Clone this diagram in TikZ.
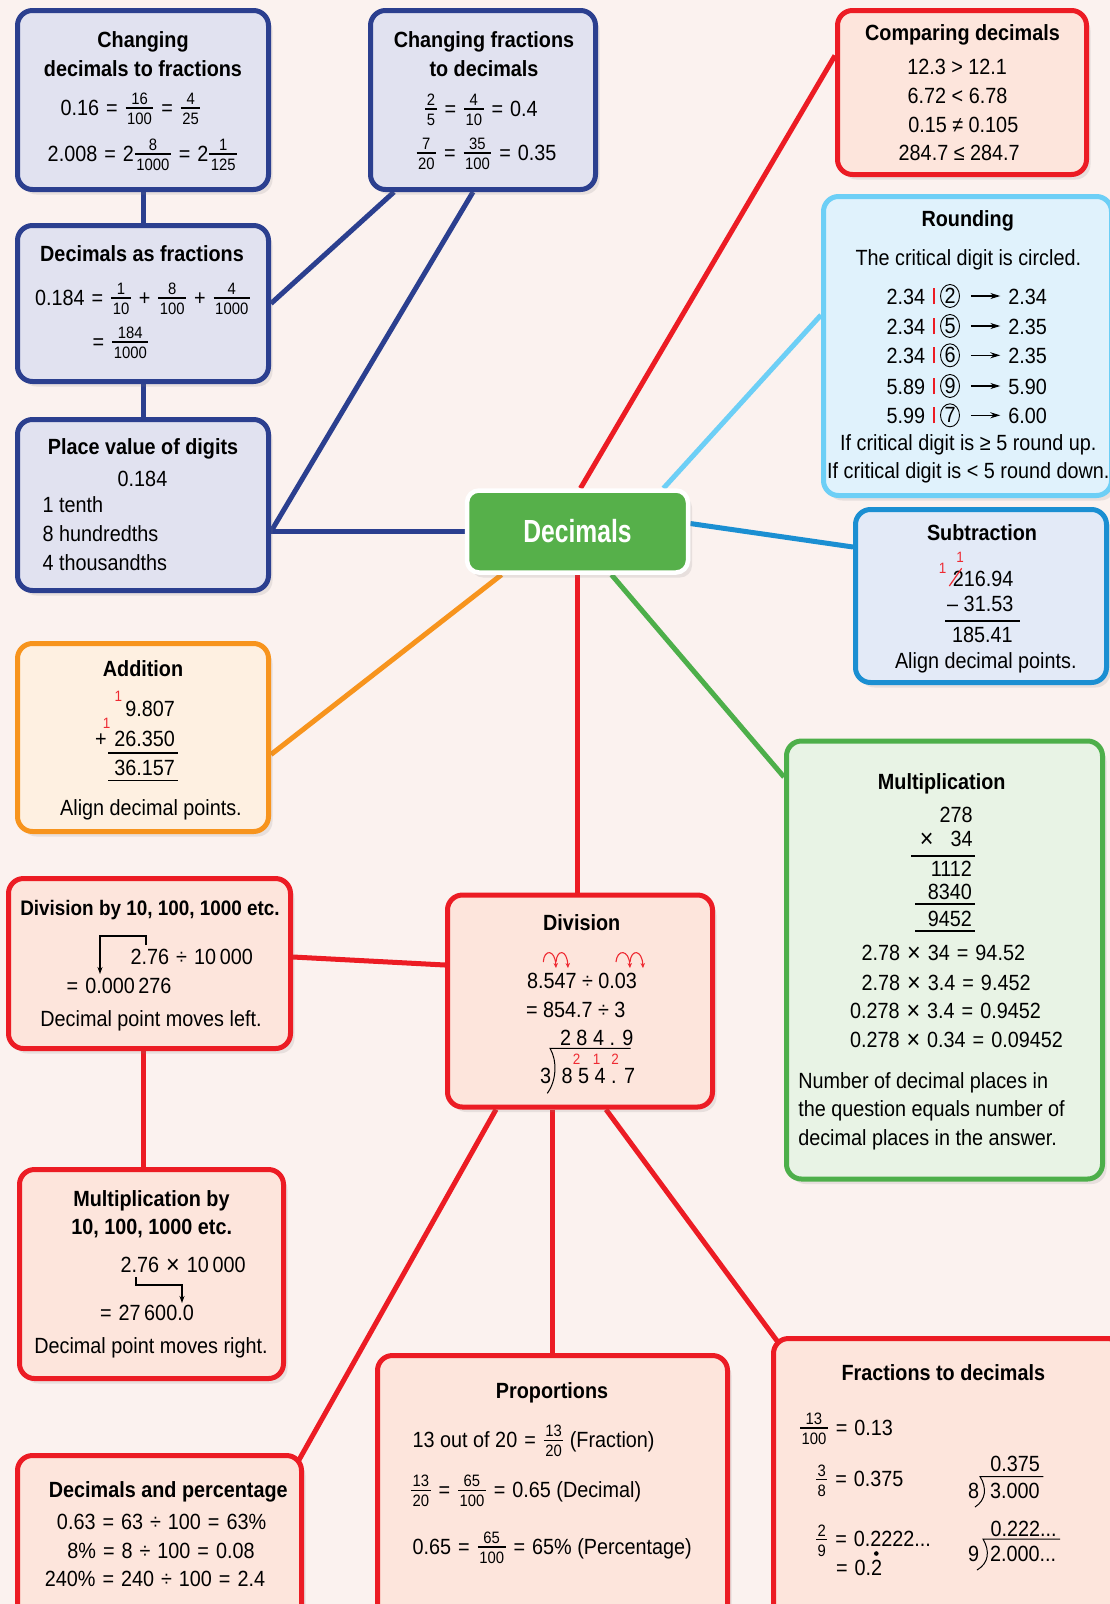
\documentclass[tikz,border=0pt]{standalone}
\usepackage{fontspec}
\setmainfont{Liberation Sans}[FakeStretch=0.9]
\newfontfamily\hfont{Liberation Sans}[FakeStretch=0.77]
\usetikzlibrary{shapes.geometric,shadows,calc,arrows.meta}
\pgfdeclarelayer{bg}
\pgfsetlayers{bg,main}
\definecolor{bgc}{HTML}{FBF2EF}
\definecolor{navy}{HTML}{2B3F8F}
\definecolor{navyfill}{HTML}{E1E2F0}
\definecolor{redb}{HTML}{EC1C24}
\definecolor{redfill}{HTML}{FDE5DC}
\definecolor{orb}{HTML}{F7941D}
\definecolor{orfill}{HTML}{FEF0E1}
\definecolor{ltb}{HTML}{6DCFF6}
\definecolor{ltfill}{HTML}{E0F2FC}
\definecolor{midb}{HTML}{1B8FD2}
\definecolor{midfill}{HTML}{E3EAF7}
\definecolor{grb}{HTML}{4DAF4A}
\definecolor{grfill}{HTML}{E8F3E5}
\definecolor{decg}{HTML}{56B04A}
\definecolor{carry}{HTML}{EE2A32}
\newcommand\fr[2]{\mbox{\fontsize{16.5}{17}\selectfont
 \setbox0=\hbox{#1}\setbox2=\hbox{#2}%
 \dimen0=\wd0 \ifdim\wd2>\dimen0 \dimen0=\wd2 \fi
 \advance\dimen0 by 3pt
 \kern1pt
 \rlap{\raisebox{10.5pt}{\hbox to\dimen0{\hss\box0\hss}}}%
 \rlap{\raisebox{6.4pt}{\rule{\dimen0}{1.2pt}}}%
 \raisebox{-9.4pt}{\hbox to\dimen0{\hss\box2\hss}}%
 \kern1pt}}
\newcommand\X{\raisebox{-1pt}{\fontsize{26}{26}\selectfont ×}}
\newcommand\op[1]{\hspace{7pt}#1\hspace{7pt}}
\newcommand\eq{\op{=}}
\newcommand\dv{\op{÷}}
\newcommand\tm{\op{\X}}
\newcommand\pl{\op{+}}
\tikzset{
 cbox/.style={rounded corners=15pt, line width=5pt, inner sep=0pt,
   drop shadow={shadow xshift=4pt, shadow yshift=-5pt, opacity=0.16}},
 navybox/.style={cbox, draw=navy, fill=navyfill},
 redbox/.style={cbox, draw=redb, fill=redfill},
 orbox/.style={cbox, draw=orb, fill=orfill},
 ltbox/.style={cbox, draw=ltb, fill=ltfill},
 midbox/.style={cbox, draw=midb, fill=midfill},
 grbox/.style={cbox, draw=grb, fill=grfill},
 txt/.style={inner sep=0pt, outer sep=0pt, font=\fontsize{22}{26}\selectfont},
 ttl/.style={inner sep=0pt, outer sep=0pt, font=\fontsize{22}{26}\selectfont\bfseries},
 carrytxt/.style={inner sep=0pt, outer sep=0pt, text=carry, font=\fontsize{15}{16}\selectfont},
 link/.style={line width=5pt},
 sumline/.style={line width=1.8pt},
 ptr/.style={line width=1.1pt, -{Stealth[length=7pt,width=5pt]}},
 rarrow/.style={line width=1.3pt, -{Stealth[length=10pt,width=6pt]}},
 redarc/.style={draw=carry, line width=1.1pt, -{Stealth[length=5pt,width=4.5pt]}},
 circd/.style={ellipse, draw, line width=0.9pt, minimum width=19pt, minimum height=23pt, inner sep=0pt, font=\fontsize{22}{26}\selectfont},
}
\begin{document}
\begin{tikzpicture}[x=1pt,y=-1pt]
\useasboundingbox (0,0) rectangle (1110,1604);
\begin{pgfonlayer}{bg}
\fill[bgc] (0,0) rectangle (1110,1604);
\end{pgfonlayer}

% Changing decimals to fractions
\node[navybox, minimum width=251pt, minimum height=179pt] (A) at (143,100) {};
\node[ttl, anchor=base] (At1) at (143,47.5) {Changing};
\node[ttl, anchor=base] (At2) at (143,76) {decimals to fractions};
\node[txt, anchor=base] (Al1) at (131,115) {0.16\eq\fr{16}{100}\eq\fr{4}{25}};
\node[txt, anchor=base] (Al2) at (143,161) {2.008\eq2\fr{8}{1000}\eq2\fr{1}{125}};

% Changing fractions to decimals
\node[navybox, minimum width=225pt, minimum height=179pt] (B) at (483,100) {};
\node[ttl, anchor=base] (Bt1) at (484,47.5) {Changing fractions};
\node[ttl, anchor=base] (Bt2) at (484,76) {to decimals};
\node[txt, anchor=base] (Bl1) at (481,116) {\fr{2}{5}\eq\fr{4}{10}\eq0.4};
\node[txt, anchor=base] (Bl2) at (486,160) {\fr{7}{20}\eq\fr{35}{100}\eq0.35};

% Decimals as fractions
\node[navybox, minimum width=251pt, minimum height=156pt] (C) at (143,303.5) {};
\node[ttl, anchor=base] (Ct) at (142,261) {Decimals as fractions};
\node[txt, anchor=base] (Cl1) at (143,305) {0.184\eq\fr{1}{10}\pl\fr{8}{100}\pl\fr{4}{1000}};
\node[txt, anchor=base] (Cl2) at (121,349) {=\hspace{7pt}\fr{184}{1000}};

% Place value
\node[navybox, minimum width=251pt, minimum height=171pt] (D) at (143,505) {};
\node[ttl, anchor=base] (Dt) at (143,454.5) {Place value of digits};
\node[txt, anchor=base] (Dl1) at (142.5,486.7) {0.184};
\node[txt, anchor=base west] (Dl2) at (42.7,512.7) {1 tenth};
\node[txt, anchor=base west] (Dl3) at (42.7,541.7) {8 hundredths};
\node[txt, anchor=base west] (Dl4) at (42.7,570.7) {4 thousandths};

% Addition
\node[orbox, minimum width=251pt, minimum height=188pt] (E) at (143,737.5) {};
\node[ttl, anchor=base] (Et) at (143,676.7) {Addition};
\node[txt, anchor=base east] (El1) at (175,716.7) {9.807};
\node[txt, anchor=base east] (El2) at (175,746) {26.350};
\node[txt, anchor=base] (Eplus) at (101,746) {+};
\node[txt, anchor=base east] (El3) at (175,775) {36.157};
\node[carrytxt] (Ec1) at (118.3,696.7) {1};
\node[carrytxt] (Ec2) at (106.7,723.3) {1};
\draw[sumline] (108,753.3) -- (177.7,753.3);
\draw[sumline] (108,780.5) -- (177.7,780.5);
\node[txt, anchor=base] (El4) at (151,815) {Align decimal points.};

% Division by 10
\node[redbox, minimum width=282pt, minimum height=170pt] (F) at (149.5,963.5) {};
\node[ttl, anchor=base, font=\fontsize{21}{26}\selectfont\bfseries] (Ft) at (150,915) {Division by 10, 100, 1000 etc.};
\node[txt, anchor=base west] (Fl1) at (130.7,964) {2.76\dv10\,000};
\node[txt, anchor=base west] (Fl2) at (66.7,993) {=\hspace{7pt}0.000\,276};
\node[txt, anchor=base] (Fl3) at (151,1026) {Decimal point moves left.};
\draw[ptr] (146,945) -- (146,936) -- (100,936) -- (100,974);

% Multiplication by 10
\node[redbox, minimum width=264pt, minimum height=209pt] (G) at (151.5,1274) {};
\node[ttl, anchor=base] (Gt1) at (151.5,1206) {Multiplication by};
\node[ttl, anchor=base] (Gt2) at (151.7,1234.7) {10, 100, 1000 etc.};
\node[txt, anchor=base west] (Gl1) at (120.7,1272) {2.76\tm10\,000};
\draw[ptr] (136,1277) -- (136,1285) -- (182,1285) -- (182,1303);
\node[txt, anchor=base west] (Gl2) at (100,1320.7) {=\hspace{7pt}27\,600.0};
\node[txt, anchor=base] (Gl3) at (151,1353) {Decimal point moves right.};

% Decimals and percentage
\node[redbox, minimum width=284pt, minimum height=172pt] (H) at (159.5,1541.5) {};
\node[ttl, anchor=base] (Ht) at (168.3,1497.3) {Decimals and percentage};
\node[txt, anchor=base] (Hl1) at (161.6,1529.3) {0.63\eq63\dv100\eq63\%};
\node[txt, anchor=base] (Hl2) at (161,1558.3) {8\%\eq8\dv100\eq0.08};
\node[txt, anchor=base] (Hl3) at (155,1586.7) {240\%\eq240\dv100\eq2.4};

% Proportions
\node[redbox, minimum width=350pt, minimum height=272pt] (I) at (552.5,1491.5) {};
\node[ttl, anchor=base] (It) at (552,1398.3) {Proportions};
\node[txt, anchor=base west] (Il1) at (412.7,1447.3) {13 out of 20\eq\fr{13}{20} (Fraction)};
\node[txt, anchor=base west] (Il2) at (410,1497.3) {\fr{13}{20}\eq\fr{65}{100}\eq0.65 (Decimal)};
\node[txt, anchor=base west] (Il3) at (412.7,1554) {0.65\eq\fr{65}{100}\eq65\% (Percentage)};

% Fractions to decimals
\node[redbox, minimum width=349pt, minimum height=289pt] (J) at (948,1483) {};
\node[ttl, anchor=base] (Jt) at (943.3,1380) {Fractions to decimals};
\node[txt, anchor=base west] (Jl1) at (799,1435) {\fr{13}{100}\eq0.13};
\node[txt, anchor=base west] (Jl2) at (815,1486.7) {\fr{3}{8}\eq0.375};
\node[txt, anchor=base west] (Jl3) at (815,1546.7) {\fr{2}{9}\eq0.2222...};
\node[txt, anchor=base west] (Jl4) at (836,1575) {=\hspace{7pt}0.2};
\fill ($(Jl4.base east)+(-5.8,-21.5)$) circle (2.3);
\node[txt, anchor=base east] (Jd1q) at (1040,1471.7) {0.375};
\node[txt, anchor=base west] (Jd1n) at (968,1498.3) {8};
\node[txt, anchor=base west] (Jd1d) at (990,1498.3) {3.000};
\draw[line width=1pt] (975,1507) .. controls (986,1500) and (987,1488) .. (980,1476.5) -- (1043.3,1476.5);
\node[txt, anchor=base east] (Jd2q) at (1056.7,1536) {0.222...};
\node[txt, anchor=base west] (Jd2n) at (968,1561.7) {9};
\node[txt, anchor=base west] (Jd2d) at (990,1561.7) {2.000...};
\draw[line width=1pt] (977,1570) .. controls (989,1563) and (990,1551) .. (983,1539) -- (1060,1539);

% Division
\node[redbox, minimum width=265pt, minimum height=212pt] (K) at (580,1001) {};
\node[ttl, anchor=base] (Kt) at (581.7,930.7) {Division};
\node[txt, anchor=base west] (Kl1) at (527,988.3) {8.547 ÷ 0.03};
\node[txt, anchor=base west] (Kl2) at (526,1017.3) {= 854.7 ÷ 3};
\node[txt, anchor=base west] (Kq) at (560,1045.7) {2 8 4 . 9};
\node[txt, anchor=base west] (Kn) at (540,1083.3) {3};
\node[txt, anchor=base west] (Kd) at (561.7,1083.3) {8 5 4 . 7};
\node[carrytxt, anchor=base] (Kc1) at (576.7,1064) {2};
\node[carrytxt, anchor=base] (Kc2) at (596.7,1064) {1};
\node[carrytxt, anchor=base] (Kc3) at (615,1064) {2};
\draw[line width=1pt] (547.3,1093.3) .. controls (557,1080) and (557,1060) .. (550,1048.3) -- (630.7,1048.3);
\draw[redarc] (543.3,962) .. controls (544,949) and (555,949) .. (556,968);
\draw[redarc] (556,962) .. controls (557,949) and (567,949) .. (568,968);
\draw[redarc] (616,962) .. controls (617,949) and (629,949) .. (630,968);
\draw[redarc] (630,962) .. controls (631,949) and (642,949) .. (643,968);

% Multiplication
\node[grbox, minimum width=316pt, minimum height=438pt] (L) at (944.5,960) {};
\node[ttl, anchor=base] (Lt) at (941.7,789.3) {Multiplication};
\node[txt, anchor=base east] (Lm1) at (972.7,822.7) {278};
\node[txt, anchor=base] (Lx) at (926.7,846) {\X};
\node[txt, anchor=base east] (Lm2) at (972.7,846) {34};
\draw[sumline] (911,856) -- (975,856);
\node[txt, anchor=base east] (Lm3) at (972,876.7) {1112};
\node[txt, anchor=base east] (Lm4) at (972,899.3) {8340};
\draw[sumline] (915,904) -- (975,904);
\node[txt, anchor=base east] (Lm5) at (972,926) {9452};
\draw[sumline] (915,930.7) -- (975,930.7);
\node[txt, anchor=base west] (Le1) at (861.7,960.7) {2.78\tm34\eq94.52};
\node[txt, anchor=base west] (Le2) at (861.7,990) {2.78\tm3.4\eq9.452};
\node[txt, anchor=base west] (Le3) at (850,1018.3) {0.278\tm3.4\eq0.9452};
\node[txt, anchor=base west] (Le4) at (850,1047.3) {0.278\tm0.34\eq0.09452};
\node[txt, anchor=base west] (Ln1) at (798.3,1088.3) {Number of decimal places in};
\node[txt, anchor=base west] (Ln2) at (798.3,1116.7) {the question equals number of};
\node[txt, anchor=base west] (Ln3) at (798.3,1145.7) {decimal places in the answer.};

% Subtraction
\node[midbox, minimum width=251pt, minimum height=173pt] (M) at (981,596) {};
\node[ttl, anchor=base] (Mt) at (982,540.7) {Subtraction};
\node[txt, anchor=base east] (Ms1) at (1013.3,586) {216.94};
\node[carrytxt, anchor=base] (Mc1) at (960,562) {1};
\node[carrytxt, anchor=base] (Mc2) at (942.7,573.5) {1};
\draw[draw=carry, line width=1.2pt] (949.3,586) -- (961.7,568.3);
\node[txt, anchor=base east] (Ms2) at (1013.3,611.7) {– 31.53};
\draw[sumline] (945,620.7) -- (1020,620.7);
\node[txt, anchor=base east] (Ms3) at (1012.7,642.7) {185.41};
\node[txt, anchor=base] (Ms4) at (985.8,668.3) {Align decimal points.};

% Rounding
\node[ltbox, minimum width=288pt, minimum height=299pt] (N) at (967.5,346) {};
\node[ttl, anchor=base] (Nt) at (967.7,226.7) {Rounding};
\node[txt, anchor=base] (Nl1) at (968.3,265) {The critical digit is circled.};
\foreach \a/\d/\r/\y [count=\i] in {2.34/2/2.34/304, 2.34/5/2.35/334, 2.34/6/2.35/363.3, 5.89/9/5.90/394, 5.99/7/6.00/423.3} {
  \node[txt, anchor=base west] (ra\i) at (886.7,\y) {\a};
  \node[circd] (rc\i) at (950,\y-8) {\d};
  \node[txt, anchor=base west] (rr\i) at (1008.3,\y) {\r};
  \draw[redb, line width=1.8pt] ($(ra\i.base east)+(9,0)$) -- ++(0,-16);
  \draw[rarrow] ($(rc\i.east)+(11,0)$) -- ($(rr\i.west |- rc\i.east)+(-8,0)$);
}
\node[txt, anchor=base] (Nl2) at (968.3,450) {If critical digit is ≥ 5 round up.};
\node[txt, anchor=base] (Nl3) at (968.3,478.3) {If critical digit is < 5 round down.};

% Comparing decimals
\node[redbox, minimum width=249pt, minimum height=164pt] (O) at (962,92.5) {};
\node[ttl, anchor=base] (Ot) at (962.5,40.7) {Comparing decimals};
\node[txt, anchor=base] (Ol1) at (957.2,74) {12.3 > 12.1};
\node[txt, anchor=base] (Ol2) at (957.5,103.3) {6.72 < 6.78};
\node[txt, anchor=base] (Ol3) at (963.3,132.3) {0.15 ≠ 0.105};
\node[txt, anchor=base] (Ol4) at (959.2,160.7) {284.7 ≤ 284.7};

% Centre
\node[draw=white, line width=4.5pt, fill=decg, rounded corners=12pt, minimum width=221pt, minimum height=82pt, inner sep=0pt, text=white, font=\hfont\bfseries\fontsize{32}{36}\selectfont, drop shadow={shadow xshift=4pt, shadow yshift=-5pt, opacity=0.16}] (dec) at (577.5,531.5) {Decimals};

% Connectors
\begin{pgfonlayer}{bg}
\draw[link, navy] (A.south) -- (C.north);
\draw[link, navy] (C.south) -- (D.north);
\coordinate (dj) at (dec.west -| D.east);
\draw[link, navy] (C.east) -- ($(B.south west)+(26,0)$);
\draw[link, navy] (dj) -- ($(B.south west)+(105,0)$);
\draw[link, navy] (dj) -- (dec.west);
\draw[link, redb] ($(dec.north)+(3,0)$) -- ($(O.west)+(0,-37)$);
\draw[link, ltb] ($(dec.north)+(86,0)$) -- ($(N.west)+(0,-31)$);
\draw[link, midb] ($(dec.east)+(0,-8)$) -- ($(M.west)+(0,-49)$);
\draw[link, grb] ($(dec.south)+(34,0)$) -- ($(L.west)+(0,-183)$);
\draw[link, redb] (dec.south) -- (dec.south |- K.north);
\draw[link, orb] ($(dec.south)+(-76,0)$) -- ($(E.east)+(0,17)$);
\draw[link, redb] ($(K.west)+(0,-36)$) -- ($(F.east)+(0,-6.5)$);
\coordinate (fg) at ($(F.south)+(-6,0)$);
\draw[link, redb] (fg) -- (fg |- G.north);
\draw[link, redb] ($(K.south)+(-84,0)$) -- ($(H.north east)+(-9,14)$);
\draw[link, redb] (I.north |- K.south) -- (I.north);
\draw[link, redb] ($(K.south)+(26,0)$) -- ($(J.north west)+(15,17)$);
\end{pgfonlayer}
\end{tikzpicture}
\end{document}
